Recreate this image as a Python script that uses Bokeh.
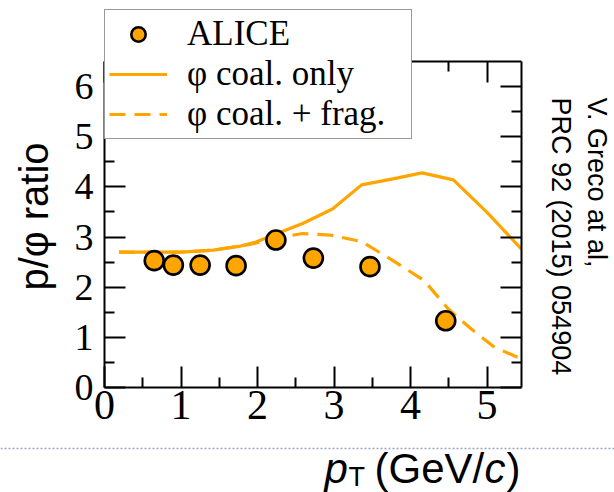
import math
from bokeh.plotting import figure
from bokeh.models import (Legend, LegendItem, FixedTicker, LinearAxis, Label,
                          Arrow, Range1d)
from bokeh.embed import file_html
from bokeh.resources import INLINE

# ---- data ----
alice_pt = [0.65, 0.90, 1.25, 1.72, 2.24, 2.73, 3.47, 4.46]
alice_ratio = [2.53, 2.44, 2.44, 2.43, 2.94, 2.58, 2.41, 1.33]

coal_pt = [0.19, 1.01, 1.42, 1.78, 1.98, 2.24, 2.59, 2.98, 3.36, 3.77, 4.15, 4.56, 5.00, 5.45]
coal_ratio = [2.70, 2.70, 2.74, 2.82, 2.90, 3.06, 3.27, 3.56, 4.04, 4.16, 4.28, 4.14, 3.49, 2.76]

frag_pt = [0.19, 1.01, 1.42, 1.78, 1.98, 2.24, 2.59, 2.95, 3.36, 3.77, 4.18, 4.49, 4.79, 5.10, 5.45]
frag_ratio = [2.70, 2.70, 2.74, 2.82, 2.88, 2.98, 3.07, 3.04, 2.91, 2.53, 2.13, 1.57, 1.17, 0.80, 0.57]

x_major = [0, 1, 2, 3, 4, 5]
x_minor = [0.5, 1.5, 2.5, 3.5, 4.5]
y_major = [0, 1, 2, 3, 4, 5, 6]
y_minor = [0.5, 1.5, 2.5, 3.5, 4.5, 5.5]

X0, X1 = 0.0, 5.45
Y0, Y1 = 0.0, 6.5

ORANGE = "#FFA500"
SERIF = "Liberation Serif"
SANS = "Liberation Sans"

# The Bokeh frame fills the whole canvas; the visible box is drawn by
# fixed-location axes so that texts and the legend can sit anywhere.
W, H = 614, 492
FL, FR, FT, FB = 104, 521, 61, 387
kx = (FR - FL) / (X1 - X0)
ky = (FB - FT) / (Y1 - Y0)
xr = Range1d(X0 - FL / kx, X1 + (W - FR) / kx)
yr = Range1d(Y0 - (H - FB) / ky, Y1 + FT / ky)

p = figure(width=W, height=H, output_backend="svg", toolbar_location=None,
           x_range=xr, y_range=yr, title=None,
           x_axis_location=None, y_axis_location=None)
p.min_border = 0
p.min_border_left = 0
p.min_border_right = 0
p.min_border_top = 0
p.min_border_bottom = 0
p.background_fill_color = "white"
p.border_fill_color = "white"
p.outline_line_color = None
p.xgrid.visible = False
p.ygrid.visible = False


def make_axis(ticks, minor, loc, bounds, show_labels, size):
    ax = LinearAxis(ticker=FixedTicker(ticks=ticks, minor_ticks=minor),
                    fixed_location=loc, bounds=bounds)
    ax.axis_line_width = 2
    ax.axis_line_color = "black"
    ax.major_tick_in = 21
    ax.major_tick_out = 0
    ax.minor_tick_in = 10
    ax.minor_tick_out = 0
    ax.major_tick_line_width = 2
    ax.minor_tick_line_width = 2
    ax.major_tick_line_color = "black"
    ax.minor_tick_line_color = "black"
    if show_labels:
        ax.major_label_text_font = SERIF
        ax.major_label_text_font_size = size
        ax.major_label_text_color = "black"
    else:
        ax.major_label_text_color = None
    return ax


bottom = make_axis(x_major, x_minor, Y0, (X0, X1), True, "42px")
bottom.major_label_standoff = 3
left = make_axis(y_major, y_minor, X0, (Y0, Y1), True, "38px")
left.major_label_standoff = 11
top = make_axis(x_major, x_minor, Y1, (X0, X1), False, "0px")
right = make_axis(y_major, y_minor, X1, (Y0, Y1), False, "0px")
p.add_layout(bottom, "below")
p.add_layout(left, "left")
p.add_layout(top, "above")
p.add_layout(right, "right")

r_coal = p.line(coal_pt, coal_ratio, line_color=ORANGE, line_width=3.2)
r_frag = p.line(frag_pt, frag_ratio, line_color=ORANGE, line_width=3.2,
                line_dash="16 9")
r_alice = p.scatter(alice_pt, alice_ratio, size=19, fill_color=ORANGE,
                    line_color="black", line_width=2.6)

legend = Legend(items=[
    LegendItem(label="ALICE", renderers=[r_alice]),
    LegendItem(label="\u03c6 coal. only", renderers=[r_coal]),
    LegendItem(label="\u03c6 coal. + frag.", renderers=[r_frag]),
], location=(FL, H - 139))
legend.label_text_font = SERIF
legend.label_text_font_size = "35px"
legend.label_text_color = "black"
legend.border_line_color = "#333333"
legend.border_line_width = 1.5
legend.background_fill_color = "white"
legend.background_fill_alpha = 1.0
legend.padding = 4
legend.spacing = 0
legend.margin = 0
legend.glyph_width = 58
legend.glyph_height = 36
legend.label_height = 36
legend.label_width = 220
legend.label_standoff = 20
p.add_layout(legend, "center")

# y-axis title
p.add_layout(Label(x=33, y=H - 216, x_units="screen", y_units="screen",
                   text="p/\u03c6 ratio", angle=math.pi / 2,
                   text_font=SANS, text_font_size="40px",
                   text_align="center", text_baseline="middle",
                   text_color="black"))

# x-axis title: p_T (GeV/c)
base_y = H - 468
p.add_layout(Label(x=324, y=base_y, x_units="screen", y_units="screen",
                   text="p", text_font=SANS, text_font_style="italic",
                   text_font_size="42px", text_align="left",
                   text_baseline="alphabetic", text_color="black"))
p.add_layout(Label(x=348, y=H - 476, x_units="screen", y_units="screen",
                   text="T", text_font=SANS, text_font_size="27px",
                   text_align="left", text_baseline="alphabetic",
                   text_color="black"))
p.add_layout(Label(x=374, y=base_y, x_units="screen", y_units="screen",
                   text="(GeV/", text_font=SANS, text_font_size="42px",
                   text_align="left", text_baseline="alphabetic",
                   text_color="black"))
p.add_layout(Label(x=484, y=base_y, x_units="screen", y_units="screen",
                   text="c", text_font=SANS, text_font_style="italic",
                   text_font_size="42px", text_align="left",
                   text_baseline="alphabetic", text_color="black"))
p.add_layout(Label(x=506, y=base_y, x_units="screen", y_units="screen",
                   text=")", text_font=SANS, text_font_size="42px",
                   text_align="left", text_baseline="alphabetic",
                   text_color="black"))

# citation on the right, rotated
p.add_layout(Label(x=596, y=H - 97, x_units="screen", y_units="screen",
                   text="V. Greco at al,", angle=-math.pi / 2,
                   text_font=SANS, text_font_size="27px",
                   text_align="left", text_baseline="middle",
                   text_color="black"))
p.add_layout(Label(x=560, y=H - 97, x_units="screen", y_units="screen",
                   text="PRC 92 (2015) 054904", angle=-math.pi / 2,
                   text_font=SANS, text_font_size="27px",
                   text_align="left", text_baseline="middle",
                   text_color="black"))

# dotted slide separator
p.add_layout(Arrow(end=None, start=None, x_start=0, y_start=H - 448,
                   x_end=W, y_end=H - 448, start_units="screen",
                   end_units="screen", line_color="#9AA3C8",
                   line_width=1.5, line_dash="2 2"))

open("out.html", "w").write(file_html(p, INLINE))
